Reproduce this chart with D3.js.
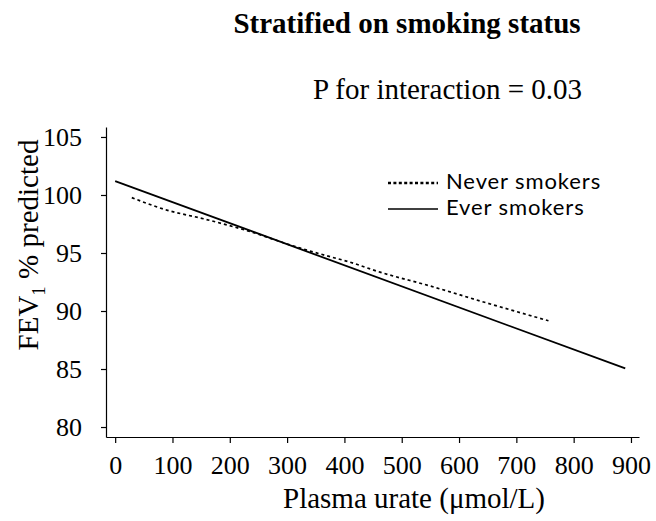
<!DOCTYPE html>
<html>
<head>
<meta charset="utf-8">
<script src="https://cdn.jsdelivr.net/npm/d3@7"></script>
<style>
  body { margin: 0; background: #fff; }
  svg { display: block; }
  .axis text { font-family: "Liberation Serif", "Times New Roman", serif; font-size: 26px; fill: #000; }
  .axis path, .axis line { stroke: #000; stroke-width: 1.2; }
</style>
</head>
<body>
<div id="chart"></div>
<script>
// 軸の目盛り
const xTicks = [0, 100, 200, 300, 400, 500, 600, 700, 800, 900];
const yTicks = [80, 85, 90, 95, 100, 105];

// 系列データ
const everUrate = [0, 890];
const everFev = [101.2, 85.05];

const neverUrate = [29, 90, 154, 236, 311, 375, 407, 462, 550, 637, 756];
const neverFev = [99.77, 98.7, 97.95, 96.84, 95.6, 94.68, 94.25, 93.35, 92.15, 90.86, 89.16];

const seriesNames = ['Never smokers', 'Ever smokers'];

const W = 656, H = 521;
const svg = d3.select('#chart').append('svg')
    .attr('width', W)
    .attr('height', H);

// スケール
const x = d3.scaleLinear().domain([-16, 914]).range([106, 639]);
const y = d3.scaleLinear().domain([79.14, 105.86]).range([437, 127]);

// x軸
svg.append('g')
    .attr('class', 'axis')
    .attr('transform', `translate(0,${y.range()[0]})`)
    .call(d3.axisBottom(x).tickValues(xTicks).tickSize(6).tickSizeOuter(0).tickPadding(13));

// y軸
svg.append('g')
    .attr('class', 'axis')
    .attr('transform', `translate(${x.range()[0]},0)`)
    .call(d3.axisLeft(y).tickValues(yTicks).tickSize(5).tickSizeOuter(0).tickPadding(19));

// 線の生成
const line = d3.line()
    .x(d => x(d[0]))
    .y(d => y(d[1]))
    .curve(d3.curveMonotoneX);

const neverData = neverUrate.map((u, i) => [u, neverFev[i]]);
const everData = everUrate.map((u, i) => [u, everFev[i]]);

svg.append('path')
    .datum(neverData)
    .attr('fill', 'none')
    .attr('stroke', '#000')
    .attr('stroke-width', 1.7)
    .attr('stroke-dasharray', '3,3')
    .attr('d', line);

svg.append('path')
    .datum(everData)
    .attr('fill', 'none')
    .attr('stroke', '#000')
    .attr('stroke-width', 1.8)
    .attr('d', line);

// タイトル
svg.append('text')
    .attr('x', 407)
    .attr('y', 33)
    .attr('text-anchor', 'middle')
    .style('font-family', '"Liberation Serif", "Times New Roman", serif')
    .style('font-weight', 'bold')
    .style('font-size', '29px')
    .text('Stratified on smoking status');

svg.append('text')
    .attr('x', 582)
    .attr('y', 99)
    .attr('text-anchor', 'end')
    .style('font-family', '"Liberation Serif", "Times New Roman", serif')
    .style('font-size', '29px')
    .text('P for interaction = 0.03');

// 軸ラベル
svg.append('text')
    .attr('x', 283)
    .attr('y', 508)
    .style('font-family', '"Liberation Serif", "Times New Roman", serif')
    .style('font-size', '29px')
    .text('Plasma urate (μmol/L)');

const yLabel = svg.append('text')
    .attr('transform', 'translate(38,245) rotate(-90)')
    .attr('text-anchor', 'middle')
    .style('font-family', '"Liberation Serif", "Times New Roman", serif')
    .style('font-size', '29px');
yLabel.append('tspan').text('FEV');
yLabel.append('tspan').attr('dy', 7).style('font-size', '19px').text('1');
yLabel.append('tspan').attr('dy', -7).text(' % predicted');

// 凡例
const legend = svg.append('g');
seriesNames.forEach((name, i) => {
    const ly = 183 + i * 26;
    legend.append('line')
        .attr('x1', 388).attr('x2', 438)
        .attr('y1', ly).attr('y2', ly)
        .attr('stroke', '#000')
        .attr('stroke-width', i === 0 ? 2.6 : 1.4)
        .attr('stroke-dasharray', i === 0 ? '3,2.4' : null);
    legend.append('text')
        .attr('x', 446)
        .attr('y', ly + 6)
        .style('font-family', 'Lato, sans-serif')
        .style('font-size', '22px')
        .style('letter-spacing', '0.9px')
        .text(name);
});
</script>
</body>
</html>
